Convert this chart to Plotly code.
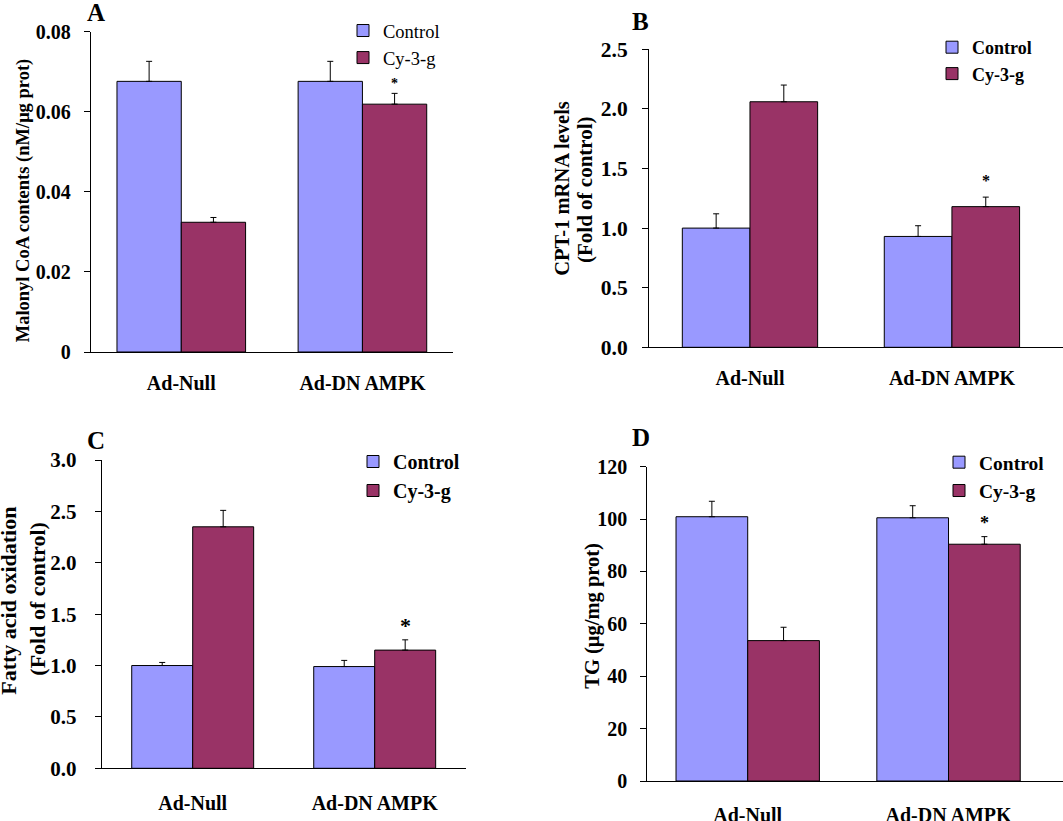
import plotly.graph_objects as go

W, H = 1063, 821
FONT = "Liberation Serif"

categories = ["Ad-Null", "Ad-DN AMPK"]
series_names = ["Control", "Cy-3-g"]
series_colors = ["#9999FF", "#993366"]

# Panel A: Malonyl CoA contents
a_control = [0.0676, 0.0676]
a_control_err = [0.0050, 0.0050]
a_cy = [0.0324, 0.0619]
a_cy_err = [0.0012, 0.0027]
a_ticks = [0, 0.02, 0.04, 0.06, 0.08]
a_ticklabels = ["0", "0.02", "0.04", "0.06", "0.08"]

# Panel B: CPT-1 mRNA levels
b_control = [1.00, 0.93]
b_control_err = [0.12, 0.09]
b_cy = [2.06, 1.18]
b_cy_err = [0.14, 0.08]
b_ticks = [0, 0.5, 1.0, 1.5, 2.0, 2.5]
b_ticklabels = ["0.0", "0.5", "1.0", "1.5", "2.0", "2.5"]

# Panel C: Fatty acid oxidation
c_control = [1.00, 0.99]
c_control_err = [0.03, 0.06]
c_cy = [2.35, 1.15]
c_cy_err = [0.16, 0.10]
c_ticks = [0, 0.5, 1.0, 1.5, 2.0, 2.5, 3.0]
c_ticklabels = ["0.0", "0.5", "1.0", "1.5", "2.0", "2.5", "3.0"]

# Panel D: TG
d_control = [100.9, 100.5]
d_control_err = [5.9, 4.6]
d_cy = [53.6, 90.4]
d_cy_err = [5.1, 2.9]
d_ticks = [0, 20, 40, 60, 80, 100, 120]
d_ticklabels = ["0", "20", "40", "60", "80", "100", "120"]


def px(x):
    return x / W


def py(y):
    return 1 - y / H


panels = [
    dict(key="A", ctrl=a_control, ctrl_err=a_control_err, cy=a_cy, cy_err=a_cy_err,
         ticks=a_ticks, ticklabels=a_ticklabels, yrange=[0, 0.08],
         box=(90.7, 453, 31.7, 352), xrange=[-0.5, 1.5], gap=0.29,
         tickfs=20, catfs=20, catstand=13, ystand=9,
         legend=dict(x=343, y=12, fs=18.5, weight="normal"),
         star=dict(fs=14, shift=9.5),
         letter=(96, 12),
         titles=[("Malonyl CoA contents (nM/μg prot)", 23.3, 200, 18.5)]),
    dict(key="B", ctrl=b_control, ctrl_err=b_control_err, cy=b_cy, cy_err=b_cy_err,
         ticks=b_ticks, ticklabels=b_ticklabels, yrange=[0, 2.5],
         box=(649, 1063, 49.3, 347.3), xrange=[-0.5, 1.55], gap=0.33,
         tickfs=21.5, catfs=20, catstand=13, ystand=10,
         legend=dict(x=932, y=29, fs=18, weight="bold"),
         star=dict(fs=16, shift=16.5),
         letter=(640, 21.7),
         titles=[("CPT-1 mRNA levels", 562.5, 188.3, 20.5),
                 ("(Fold of control)", 585, 190, 21)]),
    dict(key="C", ctrl=c_control, ctrl_err=c_control_err, cy=c_cy, cy_err=c_cy_err,
         ticks=c_ticks, ticklabels=c_ticklabels, yrange=[0, 3.0],
         box=(101.7, 465.7, 460, 768.3), xrange=[-0.5, 1.5], gap=0.33,
         tickfs=21, catfs=20, catstand=17, ystand=14,
         legend=dict(x=353, y=442, fs=20, weight="bold"),
         star=dict(fs=22, shift=14.5),
         letter=(95.7, 440),
         titles=[("Fatty acid oxidation", 9, 600.8, 22),
                 ("(Fold of control)", 36.7, 599, 22)]),
    dict(key="D", ctrl=d_control, ctrl_err=d_control_err, cy=d_cy, cy_err=d_cy_err,
         ticks=d_ticks, ticklabels=d_ticklabels, yrange=[0, 120],
         box=(647.3, 1063, 466.7, 781), xrange=[-0.5, 1.57], gap=0.286,
         tickfs=20, catfs=20, catstand=16, ystand=9,
         legend=dict(x=939, y=443, fs=19.5, weight="bold"),
         star=dict(fs=18, shift=13.5),
         letter=(641, 437),
         titles=[("TG (μg/mg prot)", 591.7, 616, 20.5)]),
]

fig = go.Figure()
annotations = []
layout = dict(
    width=W, height=H,
    margin=dict(l=0, r=0, t=0, b=0, autoexpand=False),
    paper_bgcolor="white", plot_bgcolor="rgba(0,0,0,0)",
    barmode="overlay",
    font=dict(family=FONT, color="black"),
)

for i, p in enumerate(panels):
    n = "" if i == 0 else str(i + 1)
    xa, ya = "x" + n, "y" + n
    leg = "legend" + n
    w = (1 - p["gap"]) / 2
    vals = [(p["ctrl"], p["ctrl_err"], -w), (p["cy"], p["cy_err"], 0)]
    for s, (v, e, off) in enumerate(vals):
        fig.add_trace(go.Bar(
            x=categories, y=v, name=series_names[s],
            xaxis=xa, yaxis=ya, legend=leg,
            width=w, offset=off,
            marker=dict(color=series_colors[s], line=dict(color="black", width=1)),
            error_y=dict(type="data", array=e, arrayminus=[0] * len(e), symmetric=False,
                         color="black", thickness=1, width=3),
            showlegend=True,
        ))
    x0, x1, yt, yb = p["box"]
    layout["xaxis" + n] = dict(
        domain=[px(x0), px(x1)], anchor=ya, type="category",
        categoryorder="array", categoryarray=categories,
        range=p["xrange"], showline=True, linecolor="black", linewidth=1,
        ticks="", showgrid=False, zeroline=False, automargin=False,
        tickfont=dict(family=FONT, size=p["catfs"], weight="bold", color="black"),
        ticklabelstandoff=p["catstand"], fixedrange=True,
    )
    layout["yaxis" + n] = dict(
        domain=[py(yb), py(yt)], anchor=xa, range=p["yrange"],
        tickvals=p["ticks"], ticktext=p["ticklabels"],
        showline=True, linecolor="black", linewidth=1,
        ticks="outside", ticklen=6, tickwidth=1, tickcolor="black",
        showgrid=False, zeroline=False, automargin=False,
        tickfont=dict(family=FONT, size=p["tickfs"], weight="bold", color="black"),
        ticklabelstandoff=p["ystand"], fixedrange=True,
    )
    lg = p["legend"]
    layout[leg] = dict(
        x=px(lg["x"]), y=py(lg["y"]), xanchor="left", yanchor="top",
        xref="paper", yref="paper",
        bgcolor="rgba(0,0,0,0)", borderwidth=0, tracegroupgap=0,
        font=dict(family=FONT, size=lg["fs"], weight=lg["weight"], color="black"),
        traceorder="normal",
    )
    # significance star above the Cy-3-g bar of the Ad-DN AMPK group
    annotations.append(dict(
        x=1 + w / 2, y=p["cy"][1] + p["cy_err"][1], xref=xa, yref=ya,
        text="*", showarrow=False, xanchor="center", yanchor="middle",
        yshift=p["star"]["shift"],
        font=dict(family=FONT, size=p["star"]["fs"], weight="bold", color="black"),
    ))
    lx, ly = p["letter"]
    annotations.append(dict(
        x=px(lx), y=py(ly), xref="paper", yref="paper", text=p["key"],
        showarrow=False, xanchor="center", yanchor="middle",
        font=dict(family=FONT, size=25, weight="bold", color="black"),
    ))
    for (t, tx, ty, fs) in p["titles"]:
        annotations.append(dict(
            x=px(tx), y=py(ty), xref="paper", yref="paper", text=t,
            showarrow=False, textangle=-90, xanchor="center", yanchor="middle",
            font=dict(family=FONT, size=fs, weight="bold", color="black"),
        ))

layout["annotations"] = annotations
fig.update_layout(**layout)
fig.write_html(
    "out.html",
    config={"displayModeBar": False},
    post_script="document.body.style.margin='0';document.body.style.overflow='hidden';",
)
